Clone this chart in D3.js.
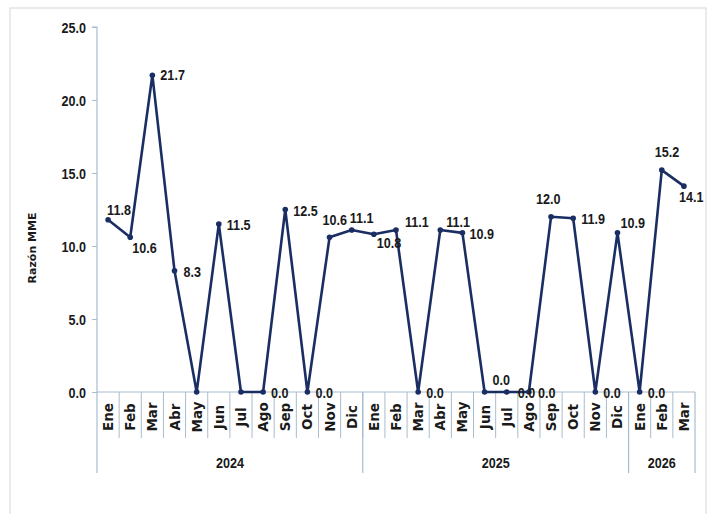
<!DOCTYPE html>
<html><head><meta charset="utf-8">
<script src="https://cdn.jsdelivr.net/npm/d3@7"></script>
<style>body{margin:0;background:#fff}</style>
</head><body><svg id="c" width="710" height="514"></svg>
<script>
const months = ["Ene","Feb","Mar","Abr","May","Jun","Jul","Ago","Sep","Oct","Nov","Dic",
                "Ene","Feb","Mar","Abr","May","Jun","Jul","Ago","Sep","Oct","Nov","Dic",
                "Ene","Feb","Mar"];
const years = ["2024","2025","2026"];
const yearCounts = [12,12,3];
const values = [11.8,10.6,21.7,8.3,0.0,11.5,0.0,0.0,12.5,0.0,10.6,11.1,
                 10.8,11.1,0.0,11.1,10.9,0.0,0.0,0.0,12.0,11.9,0.0,10.9,
                 0.0,15.2,14.1];
const yTicks = [0,5,10,15,20,25];
const yTitle = "Razón MME";

const svg = d3.select("#c");
const L = 97, R = 695, T = 27, B = 392;
const axisColor = "#a9bccd";
const lineColor = "#1b2e63";
const txtColor = "#1a1a1a";
const sans = "'Liberation Sans',Arial,sans-serif";
const SX = 0.84; // horizontal condense factor to mimic a narrow face

function narrowText(parent, px, py, str, anchor, size) {
  return parent.append("text")
    .attr("transform", `translate(${px},${py}) scale(${SX},1)`)
    .attr("text-anchor", anchor || "start")
    .attr("font-family", sans).attr("font-size", size || 15).attr("font-weight", "bold")
    .attr("fill", txtColor).text(str);
}

svg.append("rect").attr("x",10).attr("y",8).attr("width",696).attr("height",520)
  .attr("fill","none").attr("stroke","#dcdcdc").attr("stroke-width",1.2);

const keys = months.map((m,i)=>i);
const x = d3.scaleBand().domain(keys).range([L,R]);
const y = d3.scaleLinear().domain([0,25]).range([B,T]);

// y axis
const ya = svg.append("g").attr("transform",`translate(${L},0)`)
  .call(d3.axisLeft(y).tickValues(yTicks).tickFormat("").tickSize(5));
ya.select(".domain").attr("stroke",axisColor).attr("stroke-width",1.2).attr("d",`M-5,${T}H0V${B}`);
ya.selectAll(".tick line").attr("stroke",axisColor);
ya.selectAll(".tick").each(function(d){
  narrowText(d3.select(this), -11, 5, d3.format(".1f")(d), "end", 15);
});

svg.append("text").attr("transform",`translate(36,248) rotate(-90)`).attr("text-anchor","middle")
  .attr("font-family","'DejaVu Sans',sans-serif").attr("font-size",11).attr("font-weight","bold")
  .attr("fill",txtColor).text(yTitle);

// x axis baseline
svg.append("line").attr("x1",L).attr("x2",R).attr("y1",B).attr("y2",B)
  .attr("stroke",axisColor).attr("stroke-width",1.2);

// category separators and month labels
const g = svg.append("g");
keys.forEach(i=>{
  if (i>0) g.append("line").attr("x1",x(i)).attr("x2",x(i)).attr("y1",B).attr("y2",438)
    .attr("stroke",axisColor).attr("stroke-width",1);
  g.append("text").attr("transform",`translate(${x(i)+x.bandwidth()/2+5},417) rotate(-90)`)
    .attr("text-anchor","middle").attr("font-family","'DejaVu Sans',sans-serif")
    .attr("font-size",13.5).attr("font-weight","bold").attr("fill",txtColor).text(months[i]);
});
// year separators and labels
let start = 0;
const bounds = [0];
yearCounts.forEach(c=>{ start += c; bounds.push(start); });
bounds.forEach(b=>{
  const xx = b < months.length ? x(b) : R;
  g.append("line").attr("x1",xx).attr("x2",xx).attr("y1",B).attr("y2",473)
    .attr("stroke",axisColor).attr("stroke-width",1.2);
});
years.forEach((yr,k)=>{
  const x0 = x(bounds[k]);
  const x1 = bounds[k+1] < months.length ? x(bounds[k+1]) : R;
  narrowText(g, (x0+x1)/2, 468, yr, "middle", 15);
});

// line
const cx = i => x(i)+x.bandwidth()/2;
svg.append("path").datum(values)
  .attr("d", d3.line().x((d,i)=>cx(i)).y(d=>y(d)))
  .attr("fill","none").attr("stroke",lineColor).attr("stroke-width",2.6).attr("stroke-linejoin","round");
svg.selectAll("circle.pt").data(values).join("circle").attr("class","pt")
  .attr("cx",(d,i)=>cx(i)).attr("cy",d=>y(d)).attr("r",2.8).attr("fill",lineColor);

// data labels: placement per point [dx, dy] relative to point (text start, baseline), missing = hidden
const place = {
  0:[-1,-5], 1:[2,16], 2:[8,5], 3:[9,6], 5:[8,6], 7:[8,6], 8:[8,6], 9:[8,6],
  10:[-7,-12], 11:[-2,-7], 12:[3,14], 13:[9,-3], 14:[8,6], 15:[6,-3], 16:[7,6], 17:[8,-7],
  18:[11,6], 19:[9,6], 20:[-15,-13], 21:[8,6], 22:[8,6], 23:[3,-5], 24:[8,6], 25:[-7,-13], 26:[-5,16]
};
const lg = svg.append("g");
values.forEach((v,i)=>{
  if (!place[i]) return;
  narrowText(lg, cx(i)+place[i][0], y(v)+place[i][1], d3.format(".1f")(v), "start", 15);
});
</script></body></html>
